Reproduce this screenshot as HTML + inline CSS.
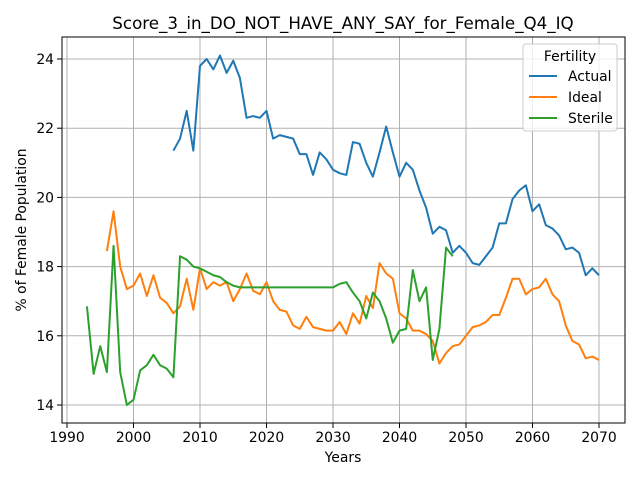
<!DOCTYPE html>
<html><head><meta charset="utf-8"><style>
body{margin:0;background:#fff;}
svg text{font-family:"DejaVu Sans","Liberation Sans",sans-serif;}
</style></head><body>
<svg id="chart" width="640" height="480" xmlns="http://www.w3.org/2000/svg">
<rect width="640" height="480" fill="#fff"/>
<g id="grid"></g><g id="series"></g><g id="axes"></g>
</svg>
<script>
const actualYears0 = 2006;
const actual = [21.35,21.7,22.5,21.35,23.8,24.0,23.7,24.1,23.6,23.95,23.45,22.3,22.35,22.3,22.5,21.7,21.8,21.75,21.7,21.25,21.25,20.65,21.3,21.1,20.8,20.7,20.65,21.6,21.55,21.0,20.6,21.3,22.05,21.3,20.6,21.0,20.8,20.2,19.7,18.95,19.15,19.05,18.4,18.6,18.4,18.1,18.05,18.3,18.55,19.25,19.25,19.95,20.2,20.35,19.6,19.8,19.2,19.1,18.9,18.5,18.55,18.4,17.75,17.95,17.75];
const idealYears0 = 1996;
const ideal = [18.45,19.6,18.0,17.35,17.45,17.8,17.15,17.75,17.1,16.95,16.65,16.85,17.65,16.75,17.95,17.35,17.55,17.45,17.55,17.0,17.35,17.8,17.3,17.2,17.55,17.0,16.75,16.7,16.3,16.2,16.55,16.25,16.2,16.15,16.15,16.4,16.05,16.65,16.35,17.15,16.8,18.1,17.8,17.65,16.65,16.5,16.15,16.15,16.05,15.85,15.2,15.5,15.7,15.75,16.0,16.25,16.3,16.4,16.6,16.6,17.1,17.65,17.65,17.2,17.35,17.4,17.65,17.2,17.0,16.3,15.85,15.75,15.35,15.4,15.3];
const sterileYears0 = 1993;
const sterile = [16.85,14.9,15.7,14.95,18.6,14.95,14.0,14.15,15.0,15.15,15.45,15.15,15.05,14.8,18.3,18.2,18.0,17.95,17.85,17.75,17.7,17.55,17.45,17.4,17.4,17.4,17.4,17.4,17.4,17.4,17.4,17.4,17.4,17.4,17.4,17.4,17.4,17.4,17.5,17.55,17.25,17.0,16.5,17.25,17.0,16.5,15.8,16.15,16.2,17.9,17.0,17.4,15.3,16.2,18.55,18.3];
const xTicks = [1990,2000,2010,2020,2030,2040,2050,2060,2070];
const yTicks = [14,16,18,20,22,24];
const seriesNames = ["Actual","Ideal","Sterile"];
const colors = ["#1f77b4","#ff7f0e","#2ca02c"];

const L=62,R=625,T=37,B=423;
const xs = y => 67 + (y-1990)*6.65;
const ys = v => 405 - (v-14)*34.6;
const NS="http://www.w3.org/2000/svg";
function mk(tag, attrs, parent){const e=document.createElementNS(NS,tag);for(const k in attrs)e.setAttribute(k,attrs[k]);parent.appendChild(e);return e;}
const grid=document.getElementById('grid'), ser=document.getElementById('series'), ax=document.getElementById('axes');
xTicks.forEach(t=>{
  const g=mk('line',{x1:xs(t),x2:xs(t),y1:T,y2:B,stroke:'#b0b0b0','stroke-width':1},grid);
  
  
  mk('line',{x1:xs(t),x2:xs(t),y1:B,y2:B+5,stroke:'#000','stroke-width':1},ax);
  const tx=mk('text',{x:xs(t),y:B+19,'font-size':13.9,'text-anchor':'middle',fill:'#000'},ax);
  tx.textContent=t;
  
  
});
yTicks.forEach(t=>{
  const g=mk('line',{x1:L,x2:R,y1:ys(t),y2:ys(t),stroke:'#b0b0b0','stroke-width':1},grid);
  
  
  mk('line',{x1:L-5,x2:L,y1:ys(t),y2:ys(t),stroke:'#000','stroke-width':1},ax);
  const tx=mk('text',{x:L-8,y:ys(t)+5,'font-size':13.9,'text-anchor':'end',fill:'#000'},ax);
  tx.textContent=t;
  
  
});
const frame=mk('rect',{x:L,y:T,width:R-L,height:B-T,fill:'none',stroke:'#000','stroke-width':1},ax);


[[actual,actualYears0],[ideal,idealYears0],[sterile,sterileYears0]].forEach(([d,y0],i)=>{
  const p=mk('polyline',{points:d.map((v,j)=>xs(y0+j)+','+ys(v)).join(' '),fill:'none',stroke:colors[i],'stroke-width':2,'stroke-linejoin':'round'},ser);
  
  
});
const title=mk('text',{x:343,y:29,'font-size':16.7,'text-anchor':'middle',fill:'#000'},ax);
title.textContent='Score_3_in_DO_NOT_HAVE_ANY_SAY_for_Female_Q4_IQ';


const xl=mk('text',{x:343,y:462,'font-size':13.9,'text-anchor':'middle',fill:'#000'},ax);
xl.textContent='Years';


const yl=mk('text',{x:26,y:230,'font-size':13.9,'text-anchor':'middle',fill:'#000',transform:'rotate(-90 26 230)'},ax);
yl.textContent='% of Female Population';


const lg=mk('g',{},ax);


mk('rect',{x:523,y:44,width:94,height:87,rx:3,fill:'#fff','fill-opacity':0.8,stroke:'#ccc','stroke-width':1},lg);
const lt=mk('text',{x:570,y:61,'font-size':13.9,'text-anchor':'middle',fill:'#000'},lg);
lt.textContent='Fertility';


seriesNames.forEach((n,i)=>{
  const y=76+i*21;
  mk('line',{x1:529,x2:557,y1:y,y2:y,stroke:colors[i],'stroke-width':2},lg);
  const t=mk('text',{x:568,y:y+5,'font-size':13.9,fill:'#000'},lg);
  t.textContent=n;
  
  
});
</script>
</body></html>
